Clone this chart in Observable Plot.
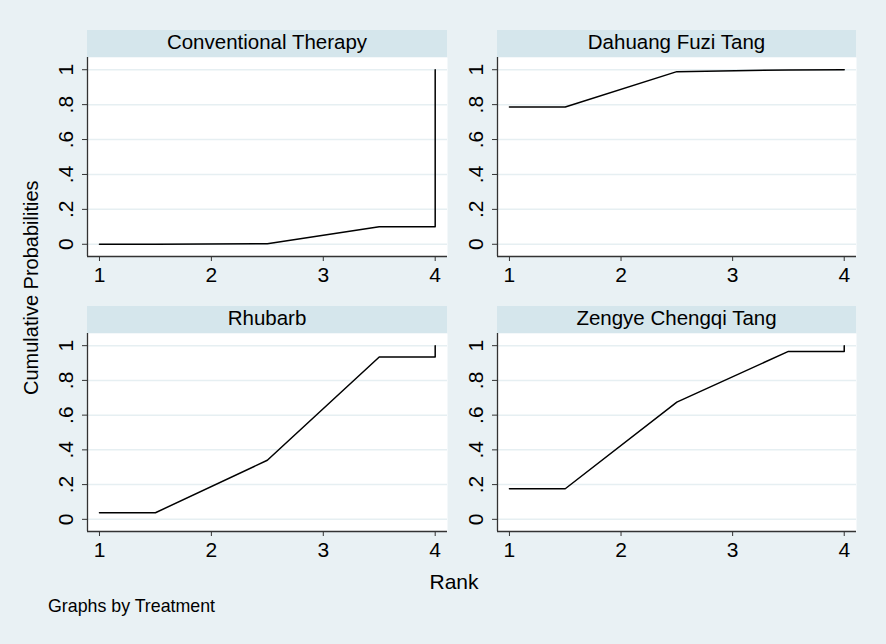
<!DOCTYPE html>
<html>
<head>
<meta charset="utf-8">
<script src="https://cdn.jsdelivr.net/npm/d3@7"></script>
<script src="https://cdn.jsdelivr.net/npm/@observablehq/plot@0.6"></script>
<style>
  html, body { margin: 0; padding: 0; background: #e9f1f4; }
  #chart { position: relative; width: 886px; height: 644px; background: #e9f1f4; overflow: hidden;
    font-family: "Liberation Sans", Arial, sans-serif; color: #000; }
  .strip { position: absolute; background: #d5e6ec; text-align: center; font-size: 20.5px; height: 27px; line-height: 23px; white-space: nowrap; }
  .txt { position: absolute; white-space: nowrap; line-height: 1; }
  .panel { position: absolute; }
</style>
</head>
<body>
<div id="chart"></div>
<script>
// ---- data ----
const treatments = ["Conventional Therapy", "Dahuang Fuzi Tang", "Rhubarb", "Zengye Chengqi Tang"];
const rankPos = [1, 1.5, 2.5, 3.5, 4, 4];
const conventionalTherapy = [0, 0, 0.003, 0.1, 0.1, 1];
const dahuangFuziTang = [0.786, 0.786, 0.989, 0.999, 1, 1];
const rhubarb = [0.038, 0.038, 0.34, 0.935, 0.935, 1];
const zengyeChengqiTang = [0.176, 0.176, 0.675, 0.967, 0.967, 1];
const xTicks = [1, 2, 3, 4];
const yTicks = [0, 0.2, 0.4, 0.6, 0.8, 1];
const yTickLabels = ["0", ".2", ".4", ".6", ".8", "1"];
const xTitle = "Rank";
const yTitle = "Cumulative Probabilities";
const note = "Graphs by Treatment";

const series = [conventionalTherapy, dahuangFuziTang, rhubarb, zengyeChengqiTang];

// ---- layout ----
const chart = document.getElementById("chart");
const font = "'Liberation Sans', Arial, sans-serif";
const xDomain = [0.893, 4.11];
const yDomain = [-0.07, 1.07];
const mL = 50, mR = 3, mT = 3, mB = 40;
const layout = [
  {fl: 87, fr: 447, ft: 57, fb: 256, st: 30},
  {fl: 497, fr: 856, ft: 57, fb: 256, st: 30},
  {fl: 87, fr: 447, ft: 332.7, fb: 530.7, st: 305.7},
  {fl: 497, fr: 856, ft: 332.7, fb: 530.7, st: 305.7}
];

function panel(values, L) {
  const data = rankPos.map((r, i) => ({rank: r, p: values[i]}));
  const w = L.fr - L.fl, h = L.fb - L.ft;
  return Plot.plot({
    width: w + mL + mR,
    height: h + mT + mB,
    marginLeft: mL, marginRight: mR, marginTop: mT, marginBottom: mB,
    style: {background: "transparent", fontFamily: font, fontSize: "21px", color: "#000", overflow: "visible"},
    x: {domain: xDomain},
    y: {domain: yDomain},
    marks: [
      Plot.frame({fill: "white", stroke: null}),
      Plot.gridY(yTicks, {stroke: "#e6eff2", strokeOpacity: 1, strokeWidth: 1.5}),
      Plot.axisX(xTicks, {tickSize: 5, tickPadding: 6, label: null, stroke: "#333", fill: "#000", fontSize: 21}),
      Plot.axisY(yTicks, {tickSize: 5, tickPadding: 10, tickRotate: -90, label: null, stroke: "#333", fill: "#000", fontSize: 21,
        tickFormat: (d) => yTickLabels[yTicks.indexOf(d)]}),
      Plot.ruleX([xDomain[0]], {stroke: "#333", strokeWidth: 1.3}),
      Plot.ruleY([yDomain[0]], {stroke: "#333", strokeWidth: 1.3}),
      Plot.line(data, {x: "rank", y: "p", stroke: "black", strokeWidth: 1.5})
    ]
  });
}

treatments.forEach((name, i) => {
  const L = layout[i];
  const strip = document.createElement("div");
  strip.className = "strip";
  strip.style.left = L.fl + "px";
  strip.style.top = L.st + "px";
  strip.style.width = (L.fr - L.fl) + "px";
  strip.textContent = name;
  chart.appendChild(strip);

  const p = panel(series[i], L);
  p.classList.add("panel");
  p.style.left = (L.fl - mL) + "px";
  p.style.top = (L.ft - mT) + "px";
  chart.appendChild(p);
});

function addText(text, size, x, baseline, anchor) {
  const d = document.createElement("div");
  d.className = "txt";
  d.style.fontSize = size + "px";
  d.textContent = text;
  chart.appendChild(d);
  d.style.top = (baseline - 0.8305 * size) + "px";
  if (anchor === "middle") {
    d.style.left = (x - d.offsetWidth / 2) + "px";
  } else {
    d.style.left = x + "px";
  }
  return d;
}

addText(xTitle, 21, 454, 588, "middle");
addText(note, 17.8, 48, 612.7, "start");
// rotated y title: baseline at x≈38, centered at y≈287.5
(function () {
  const size = 20;
  const d = document.createElement("div");
  d.className = "txt";
  d.style.fontSize = size + "px";
  d.textContent = yTitle;
  chart.appendChild(d);
  const wpx = d.offsetWidth;
  const topEdgeX = 38 - 0.8305 * size;
  d.style.transformOrigin = "0 0";
  d.style.transform = "rotate(-90deg)";
  d.style.left = topEdgeX + "px";
  d.style.top = (287.5 + wpx / 2) + "px";
})();
</script>
</body>
</html>
